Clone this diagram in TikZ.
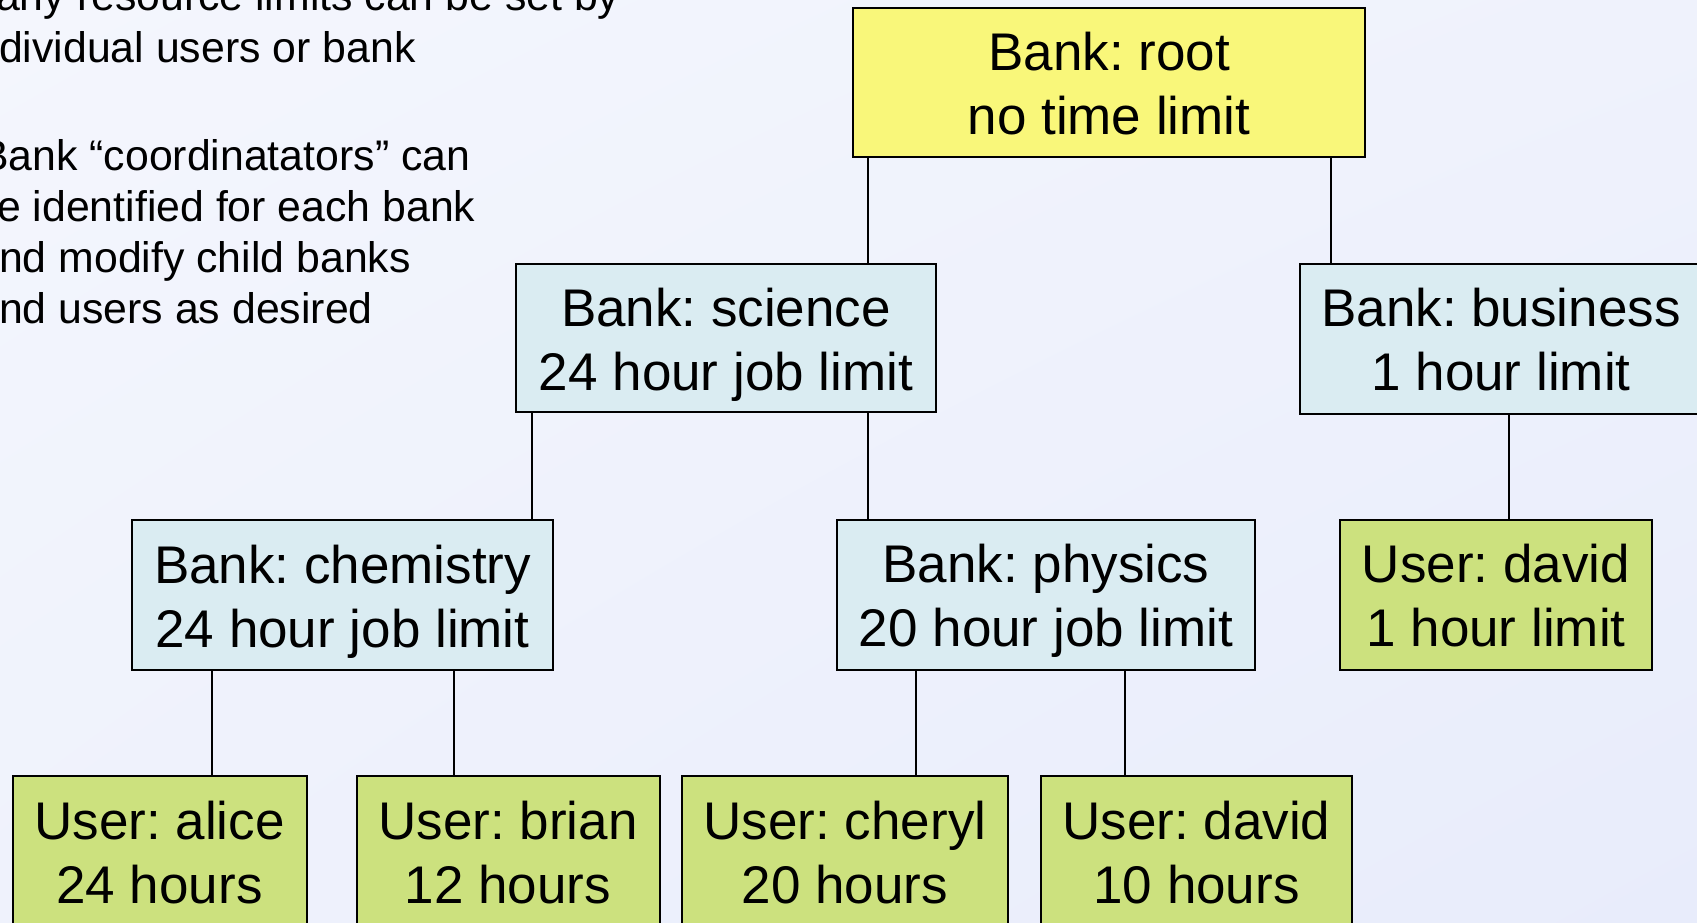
\documentclass[tikz,border=0pt]{standalone}
\usepackage{fontspec}
\setmainfont{Liberation Sans}
\usetikzlibrary{shadings}
\frenchspacing
\definecolor{bgA}{RGB}{244,246,253}
\definecolor{bgM}{RGB}{239,242,252}
\definecolor{bgB}{RGB}{232,236,251}
\definecolor{rootyellow}{RGB}{249,247,122}
\definecolor{bankblue}{RGB}{218,236,242}
\definecolor{usergreen}{RGB}{204,225,126}
\begin{document}
\begin{tikzpicture}[x=1pt,y=-1pt,
  box/.style={draw=black, line width=2pt, inner sep=0pt, align=center,
    font=\fontsize{53}{64}\selectfont, minimum height=150pt,
    text height=116.4pt, text depth=12pt},
  rootbox/.style={box, fill=rootyellow},
  bankbox/.style={box, fill=bankblue},
  userbox/.style={box, fill=usergreen},
  note/.style={anchor=base west, inner sep=0pt, font=\fontsize{42.8}{51}\selectfont},
  link/.style={draw=black, line width=2pt}]
\useasboundingbox (0,0) rectangle (1697,922);
\shade[upper left=bgA, upper right=bgM, lower left=bgM, lower right=bgB] (0,0) rectangle (1697,922);

% left notes (clipped at the picture edge)
\node[note] (n1) at (-4,10) {any resource limits can be set by};
\node[note] (n2) at (-1,62.7) {dividual users or bank};
\node[note] (n3) at (-20,170.7) {Bank “coordinatators” can};
\node[note] (n4) at (-3,221.7) {e identified for each bank};
\node[note] (n5) at (-1,272.7) {nd modify child banks};
\node[note] (n6) at (-1,323.3) {nd users as desired};

% boxes
\node[rootbox, minimum width=512pt, minimum height=148.4pt] (root) at (1109,82.5) {Bank: root\\no time limit};
\node[bankbox, minimum width=420pt, minimum height=148pt] (sci) at (726,338) {Bank: science\\24 hour job limit};
\node[bankbox, minimum width=402pt] (bus) at (1501,338.5) {Bank: business\\1 hour limit};
\node[bankbox, minimum width=421pt] (chem) at (342.5,595) {Bank: chemistry\\24 hour job limit};
\node[bankbox, minimum width=418pt] (phys) at (1046,594.5) {Bank: physics\\20 hour job limit};
\node[userbox, minimum width=312pt] (dav1) at (1496,594.5) {User: david\\1 hour limit};
\node[userbox, minimum width=294pt] (alice) at (159.5,851) {User: alice\\24 hours};
\node[userbox, minimum width=303pt] (brian) at (508,851) {User: brian\\12 hours};
\node[userbox, minimum width=326pt] (cheryl) at (845,851) {User: cheryl\\20 hours};
\node[userbox, minimum width=311pt] (dav2) at (1196.5,851) {User: david\\10 hours};

% connectors
\coordinate (j1) at ([xshift=16]root.south west);
\draw[link] (j1) -- (j1 |- sci.north);
\coordinate (j2) at ([xshift=32]bus.north west);
\draw[link] (j2 |- root.south) -- (j2);
\coordinate (j3) at ([xshift=16.5]sci.south west);
\draw[link] (j3) -- (j3 |- chem.north);
\coordinate (j4) at ([xshift=32]phys.north west);
\draw[link] (j4 |- sci.south) -- (j4);
\coordinate (j5) at ([xshift=7.7]bus.south);
\draw[link] (j5) -- (j5 |- dav1.north);
\coordinate (j6) at ([xshift=81]chem.south west);
\draw[link] (j6) -- (j6 |- alice.north);
\coordinate (j7) at ([xshift=-100.5]chem.south east);
\draw[link] (j7) -- (j7 |- brian.north);
\coordinate (j8) at ([xshift=80]phys.south west);
\draw[link] (j8) -- (j8 |- cheryl.north);
\coordinate (j9) at ([xshift=-131]phys.south east);
\draw[link] (j9) -- (j9 |- dav2.north);
\end{tikzpicture}
\end{document}
